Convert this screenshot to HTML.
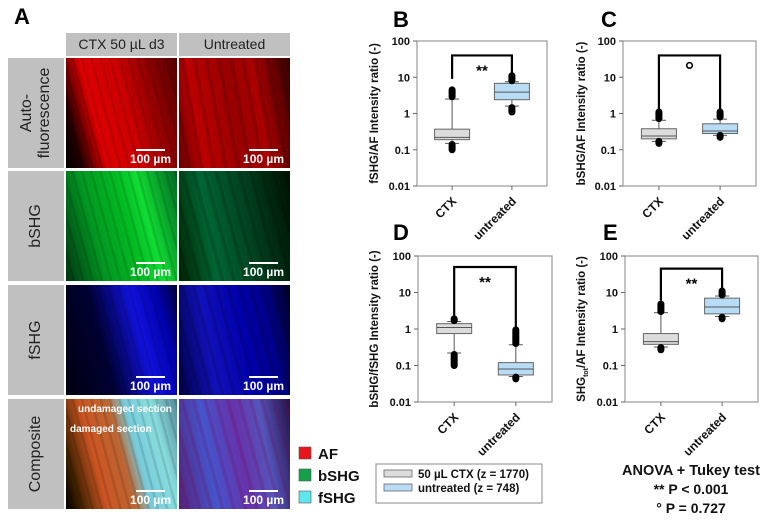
<!DOCTYPE html>
<html><head><meta charset="utf-8">
<style>
html,body{margin:0;padding:0;background:#fff;}
body{width:775px;height:520px;position:relative;overflow:hidden;font-family:"Liberation Sans",Arial,sans-serif;}
.hdr{position:absolute;background:#c0c0c0;color:#222;font-size:14px;text-align:center;line-height:23px;}
.rowlab{position:absolute;background:#c0c0c0;}
.rowlab span{position:absolute;left:50%;top:50%;transform:translate(-50%,-50%) rotate(-90deg);white-space:nowrap;font-size:16px;color:#222;text-align:center;line-height:18px;}
.img{position:absolute;overflow:hidden;}
.sb{position:absolute;right:6px;bottom:2px;color:#fff;font-weight:bold;font-size:12px;text-align:center;}
.sb i{display:block;height:2px;background:#fff;margin:0 6px 1px 6px;}
.ann{position:absolute;color:#fff;font-weight:bold;font-size:10px;white-space:nowrap;}
svg{position:absolute;left:0;top:0;}
</style></head><body>
<div style="position:absolute;left:14px;top:4px;font-size:22px;font-weight:bold;">A</div>
<div class="hdr" style="left:66px;top:33px;width:111px;height:23px;">CTX 50 µL d3</div>
<div class="hdr" style="left:179px;top:33px;width:111px;height:23px;">Untreated</div>

<div class="rowlab" style="left:8px;top:58px;width:56px;height:110px;"><span>Auto-<br>fluorescence</span></div>
<div class="rowlab" style="left:8px;top:171px;width:56px;height:110px;"><span>bSHG</span></div>
<div class="rowlab" style="left:8px;top:285px;width:56px;height:110px;"><span>fSHG</span></div>
<div class="rowlab" style="left:8px;top:399px;width:56px;height:110px;"><span>Composite</span></div>

<div class="img" style="left:66px;top:58px;width:111px;height:110px;background:repeating-linear-gradient(75deg,rgba(0,0,0,0) 0 6px,rgba(0,0,0,.12) 7px 9px),linear-gradient(75deg,#000 0%,#200 12%,#d00 30%,#c00 55%,#800 80%,#500 100%);"><div class="sb"><i></i>100 µm</div></div>
<div class="img" style="left:179px;top:58px;width:111px;height:110px;background:repeating-linear-gradient(80deg,rgba(0,0,0,0) 0 8px,rgba(0,0,0,.15) 9px 12px),linear-gradient(80deg,#600 0%,#b00 20%,#900 50%,#a00 70%,#300 100%);"><div class="sb"><i></i>100 µm</div></div>

<div class="img" style="left:66px;top:171px;width:111px;height:110px;background:repeating-linear-gradient(75deg,rgba(0,0,0,0) 0 6px,rgba(0,0,0,.12) 7px 9px),linear-gradient(75deg,#031 0%,#092 30%,#0b2 55%,#1d3 70%,#062 100%);"><div class="sb"><i></i>100 µm</div></div>
<div class="img" style="left:179px;top:171px;width:111px;height:110px;background:repeating-linear-gradient(75deg,rgba(0,0,0,0) 0 7px,rgba(0,0,0,.15) 8px 11px),linear-gradient(80deg,#020 0%,#063 30%,#042 60%,#010 100%);"><div class="sb"><i></i>100 µm</div></div>

<div class="img" style="left:66px;top:285px;width:111px;height:110px;background:repeating-linear-gradient(75deg,rgba(0,0,0,0) 0 7px,rgba(0,0,0,.12) 8px 10px),linear-gradient(75deg,#001 0%,#003 35%,#11d 65%,#00a 85%,#003 100%);"><div class="sb"><i></i>100 µm</div></div>
<div class="img" style="left:179px;top:285px;width:111px;height:110px;background:repeating-linear-gradient(75deg,rgba(0,0,0,0) 0 7px,rgba(0,0,0,.15) 8px 11px),linear-gradient(80deg,#004 0%,#11b 30%,#00a 60%,#008 80%,#002 100%);"><div class="sb"><i></i>100 µm</div></div>

<div class="img" style="left:66px;top:399px;width:111px;height:110px;background:repeating-linear-gradient(75deg,rgba(0,0,0,0) 0 6px,rgba(0,0,0,.12) 7px 9px),linear-gradient(75deg,#000 0%,#420 12%,#c52 30%,#b63 50%,#7cd 62%,#8dd 80%,#589 100%);">
<div class="ann" style="left:12px;top:5px;">undamaged section</div>
<div class="ann" style="left:4px;top:25px;">damaged section</div>
<div class="sb"><i></i>100 µm</div></div>
<div class="img" style="left:179px;top:399px;width:111px;height:110px;background:repeating-linear-gradient(75deg,rgba(0,0,0,0) 0 7px,rgba(120,0,80,.2) 8px 11px),linear-gradient(80deg,#527 0%,#45c 30%,#63a 55%,#55b 75%,#214 100%);"><div class="sb"><i></i>100 µm</div></div>

<svg id="chart" width="775" height="520"></svg>

<script>
// categories and box statistics: [lowOutlierMin, lowOutlierMax, whiskerLow, q1, median, q3, whiskerHigh, highOutlierMin, highOutlierMax]
const categories = ["CTX", "untreated"];
const yTicks = [0.01, 0.1, 1, 10, 100];
const yTickLabels = ["0.01", "0.1", "1", "10", "100"];
const panelB_ctx = [0.1, 0.14, 0.15, 0.19, 0.22, 0.37, 2.5, 2.9, 4.5];
const panelB_unt = [1.1, 1.45, 1.6, 2.4, 3.9, 6.8, 7.5, 8, 11];
const panelC_ctx = [0.15, 0.17, 0.17, 0.2, 0.24, 0.38, 0.65, 0.72, 1.1];
const panelC_unt = [0.22, 0.25, 0.25, 0.28, 0.33, 0.52, 0.7, 0.8, 1.1];
const panelD_ctx = [0.1, 0.2, 0.22, 0.75, 1.1, 1.4, 1.6, 1.7, 1.9];
const panelD_unt = [0.043, 0.048, 0.05, 0.055, 0.08, 0.12, 0.37, 0.4, 0.95];
const panelE_ctx = [0.27, 0.31, 0.32, 0.38, 0.45, 0.75, 2.8, 3.0, 4.8];
const panelE_unt = [1.9, 2.1, 2.2, 2.6, 4.0, 7.0, 8.0, 8.5, 11];
// bracket: [ctx end, untreated end, top]
const bracketB = [9, 9, 40];
const bracketC = [1.3, 1.3, 40];
const bracketD = [2.2, 1.1, 50];
const bracketE = [6, 13, 45];

const svg = document.getElementById('chart');
const NS = 'http://www.w3.org/2000/svg';
function mk(tag, attrs, parent){
  const e = document.createElementNS(NS, tag);
  for (const k in attrs) e.setAttribute(k, attrs[k]);
  (parent||svg).appendChild(e); return e;
}
function txt(s, attrs, parent){ const t = mk('text', attrs, parent); t.textContent = s; return t; }

function drawPanel(p){
  const g = mk('g', {});
  
  
  const L=p.x, R=p.x+p.w, T=p.y, B=p.y+p.h;
  const ly = v => B - (Math.log10(v) + 2) / 4 * p.h;
  const cx = i => L + p.w * (i === 0 ? 0.27 : 0.73);
  const plot = mk('rect', {x:L, y:T, width:p.w, height:p.h, fill:'none', stroke:'#999', 'stroke-width':1.2}, g);
  
  
  yTicks.forEach((v, i) => {
    mk('line', {x1:L-4, x2:L, y1:ly(v), y2:ly(v), stroke:'#666'}, g);
    const t = txt(yTickLabels[i], {x:L-7, y:ly(v)+4, 'text-anchor':'end', 'font-size':11, 'font-weight':'bold', fill:'#111'}, g);
    
    
  });
  const lt = txt(p.id, {x:p.lx, y:p.ly, 'font-size':22, 'font-weight':'bold', fill:'#000'}, g);
  
  
  const yt = mk('text', {x:0, y:0, transform:`translate(${p.tx},${T+p.h/2}) rotate(-90)`, 'text-anchor':'middle', 'font-size':11.5, 'font-weight':'bold', fill:'#111'}, g);
  
  
  if (p.sub) {
    yt.innerHTML = 'SHG<tspan font-size="7" dy="3">tot</tspan><tspan dy="-3">/AF Intensity ratio (-)</tspan>';
  } else yt.textContent = p.title;
  categories.forEach((c, i) => {
    const x = cx(i);
    mk('line', {x1:x, x2:x, y1:B, y2:B+4, stroke:'#666'}, g);
    const t = txt(c, {x:0, y:0, transform:`translate(${x+5},${B+16}) rotate(-45)`, 'text-anchor':'end', 'font-size':12, 'font-weight':'bold', fill:'#111'}, g);
    
    
  });
  [p.ctx, p.unt].forEach((d, i) => {
    const x = cx(i), hw = 17.5;
    const fill = i === 0 ? '#dcdcdc' : '#b9dcf6';
    const bg = mk('g', {}, g);
    
    
    mk('line', {x1:x, x2:x, y1:ly(d[2]), y2:ly(d[6]), stroke:'#555', 'stroke-width':1}, bg);
    mk('line', {x1:x-7, x2:x+7, y1:ly(d[2]), y2:ly(d[2]), stroke:'#555'}, bg);
    mk('line', {x1:x-7, x2:x+7, y1:ly(d[6]), y2:ly(d[6]), stroke:'#555'}, bg);
    mk('rect', {x:x-hw, y:ly(d[5]), width:hw*2, height:ly(d[3])-ly(d[5]), fill:fill, stroke:'#666', 'stroke-width':1}, bg);
    mk('line', {x1:x-hw, x2:x+hw, y1:ly(d[4]), y2:ly(d[4]), stroke:'#555', 'stroke-width':1}, bg);
    mk('line', {x1:x, x2:x, y1:ly(d[0]), y2:ly(d[1]), stroke:'#000', 'stroke-width':7, 'stroke-linecap':'round'}, bg);
    mk('line', {x1:x, x2:x, y1:ly(d[7]), y2:ly(d[8]), stroke:'#000', 'stroke-width':7, 'stroke-linecap':'round'}, bg);
  });
  const br = mk('polyline', {points:`${cx(0)},${ly(p.br[0])} ${cx(0)},${ly(p.br[2])} ${cx(1)},${ly(p.br[2])} ${cx(1)},${ly(p.br[1])}`, fill:'none', stroke:'#000', 'stroke-width':2.2}, g);
  
  
  const mx = (cx(0)+cx(1))/2;
  if (p.sig === '**') {
    const s = txt('**', {x:mx, y:ly(p.br[2])+20, 'text-anchor':'middle', 'font-size':15, 'font-weight':'bold'}, g);
    
    
  } else {
    const s = mk('circle', {cx:mx, cy:ly(p.br[2])+10, r:2.8, fill:'none', stroke:'#000', 'stroke-width':1.6}, g);
    
    
  }
}

drawPanel({id:'B', x:417, y:41, w:130, h:145, lx:393, ly:27, tx:378, title:'fSHG/AF Intensity ratio (-)', ctx:panelB_ctx, unt:panelB_unt, br:bracketB, sig:'**'});
drawPanel({id:'C', x:623, y:41, w:133, h:145, lx:601, ly:27, tx:585, title:'bSHG/AF Intensity ratio (-)', ctx:panelC_ctx, unt:panelC_unt, br:bracketC, sig:'o'});
drawPanel({id:'D', x:418, y:256, w:134, h:146, lx:393, ly:240, tx:378, title:'bSHG/fSHG Intensity ratio (-)', ctx:panelD_ctx, unt:panelD_unt, br:bracketD, sig:'**'});
drawPanel({id:'E', x:625, y:256, w:133, h:146, lx:603, ly:240, tx:585, sub:true, ctx:panelE_ctx, unt:panelE_unt, br:bracketE, sig:'**'});

// channel legend
const chLabels = ["AF", "bSHG", "fSHG"];
const chColors = ["#e8141c", "#12a04a", "#5ee6ee"];
chLabels.forEach((l, i) => {
  const g = mk('g', {});
  
  
  mk('rect', {x:299, y:447+i*22, width:12, height:12, fill:chColors[i], stroke:'#555', 'stroke-width':0.6}, g);
  txt(l, {x:318, y:459+i*22, 'font-size':15, 'font-weight':'bold', fill:'#111'}, g);
});

// group legend
const lg = mk('g', {});


mk('rect', {x:376, y:464, width:166, height:39, fill:'#fff', stroke:'#888', 'stroke-width':1}, lg);
const groupLabels = ["50 µL CTX (z = 1770)", "untreated (z = 748)"];
const groupColors = ["#dcdcdc", "#b9dcf6"];
groupLabels.forEach((l, i) => {
  mk('rect', {x:384, y:470+i*14, width:28, height:7, fill:groupColors[i], stroke:'#666', 'stroke-width':0.8}, lg);
  txt(l, {x:418, y:478+i*14, 'font-size':11.5, 'font-weight':'bold', fill:'#111'}, lg);
});

// stats note
const sn = mk('g', {});


txt('ANOVA + Tukey test', {x:691, y:475, 'text-anchor':'middle', 'font-size':14.5, 'font-weight':'bold', fill:'#111'}, sn);
txt('** P < 0.001', {x:691, y:494, 'text-anchor':'middle', 'font-size':14, 'font-weight':'bold', fill:'#111'}, sn);
txt('° P = 0.727', {x:691, y:513, 'text-anchor':'middle', 'font-size':14, 'font-weight':'bold', fill:'#111'}, sn);
</script>
</body></html>
